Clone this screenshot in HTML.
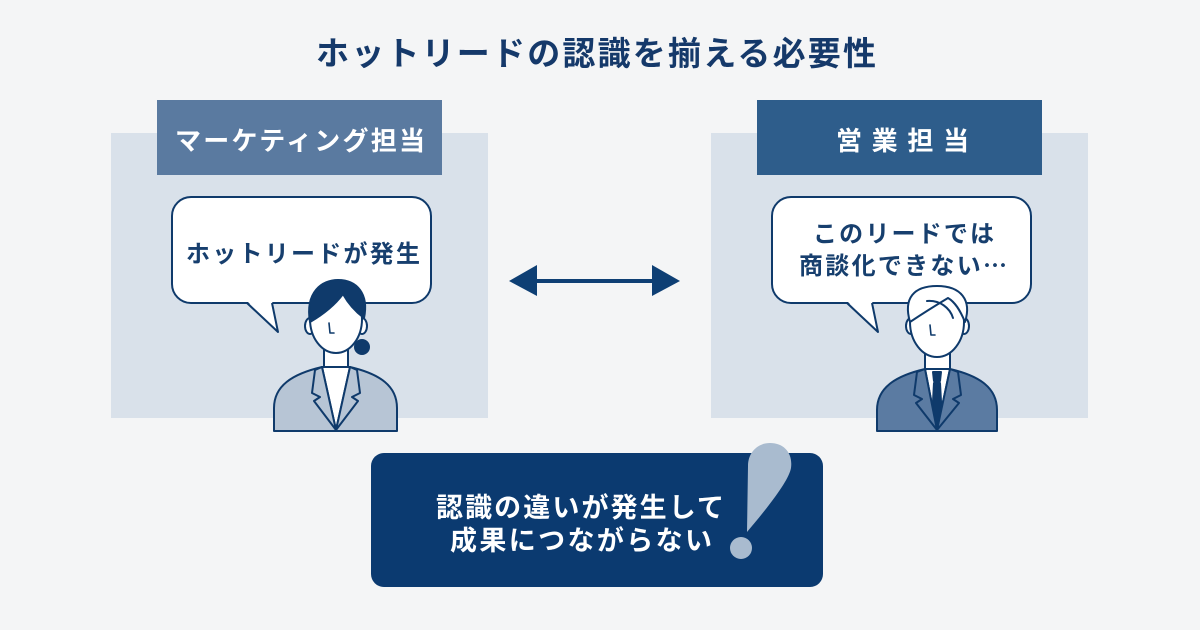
<!DOCTYPE html>
<html><head><meta charset="utf-8"><style>
html,body{margin:0;padding:0;background:#f4f5f6;}
svg{display:block;}
text{font-family:"Liberation Sans","Noto Sans CJK JP",sans-serif;font-weight:700;}
</style></head><body>
<svg width="1200" height="630" viewBox="0 0 1200 630" xmlns="http://www.w3.org/2000/svg">
<rect width="1200" height="630" fill="#f4f5f6"/>
<!-- title -->
<text x="316" y="65" font-size="33" fill="#15396a" textLength="560" lengthAdjust="spacing">ホットリードの認識を揃える必要性</text>

<!-- panels -->
<rect x="111" y="133" width="377" height="285" fill="#d9e1ea"/>
<rect x="711" y="133" width="377" height="285" fill="#d9e1ea"/>
<rect x="157" y="100" width="285" height="75" fill="#5a7aa0"/>
<rect x="757" y="100" width="285" height="75" fill="#2e5d8b"/>
<text x="175" y="150" font-size="26" fill="#fff" textLength="250" lengthAdjust="spacing">マーケティング担当</text>
<text x="836" y="150" font-size="26" fill="#fff" textLength="133" lengthAdjust="spacing">営業担当</text>

<!-- bubbles -->
<g stroke="#0f3a6b" stroke-width="2" stroke-linejoin="round">
<rect x="172" y="197" width="259" height="106" rx="19" fill="#fff"/>
<rect x="772" y="197" width="259" height="106" rx="19" fill="#fff"/>
</g>
<polygon points="247,301 278,332 272,301" fill="#fff"/>
<polyline points="247,303 278,332 272,303" fill="none" stroke="#0f3a6b" stroke-width="2" stroke-linejoin="round"/>
<polygon points="847,301 878,332 872,301" fill="#fff"/>
<polyline points="847,303 878,332 872,303" fill="none" stroke="#0f3a6b" stroke-width="2" stroke-linejoin="round"/>
<text x="186" y="262" font-size="24" fill="#173f6e" textLength="234" lengthAdjust="spacing">ホットリードが発生</text>
<text x="813" y="242" font-size="24" fill="#173f6e" textLength="181" lengthAdjust="spacing">このリードでは</text>
<text x="799" y="274" font-size="24" fill="#173f6e" textLength="208" lengthAdjust="spacing">商談化できない<tspan style="font-family:'Noto Sans CJK JP',sans-serif">…</tspan></text>

<!-- arrow -->
<line x1="532" y1="281" x2="658" y2="281" stroke="#0e3f74" stroke-width="4"/>
<polygon points="509,281 537,265 537,296" fill="#0e3f74"/>
<polygon points="680,281 652,265 652,296" fill="#0e3f74"/>

<!-- woman -->
<g stroke="#0f3a6b" stroke-width="2" stroke-linejoin="round" stroke-linecap="round">
<path d="M274,431 L274,408 C274,386 292,374 322,367 L350,367 C380,374 397,386 397,408 L397,431 Z" fill="#b7c5d5"/>
<path d="M322,367 L350,367 L336,430 Z" fill="#fff"/>
<path d="M322,367 L315,370 L312,393 L320,397 L314,401 L336,430 Z" fill="#b7c5d5"/>
<path d="M350,367 L357,370 L360,393 L352,397 L358,401 L336,430 Z" fill="#b7c5d5"/>
<rect x="324" y="343" width="24" height="24" fill="#fff"/>
<circle cx="362" cy="347" r="7" fill="#0f3a6b"/>
<ellipse cx="310" cy="326" rx="5" ry="8" fill="#fff"/>
<ellipse cx="362" cy="326" rx="5" ry="8" fill="#fff"/>
<ellipse cx="336" cy="319" rx="26" ry="34" fill="#fff"/>
<path d="M310,322 C305,292 322,280 338,280 C357,280 369,294 364,318 C356,312 348,303 343,294 C334,306 322,315 310,322 Z" fill="#0f3a6b"/>
<path d="M329,323 L330,333 L334,333" fill="none" stroke-width="1.6"/>
</g>

<!-- man -->
<g stroke="#0f3a6b" stroke-width="2" stroke-linejoin="round" stroke-linecap="round">
<path d="M877,431 L877,410 C877,388 895,376 925,369 L950,369 C980,376 997,388 997,410 L997,431 Z" fill="#5b7ba2"/>
<path d="M925,369 L950,369 L937,430 Z" fill="#fff"/>
<path d="M933,372 L941,372 L940,381 L934,381 Z" fill="#0f3a6b"/>
<path d="M934,383 L940,383 L942,420 L937,428 L932,420 Z" fill="#0f3a6b"/>
<path d="M925,369 L917,372 L914,395 L922,399 L916,403 L937,430 Z" fill="#5b7ba2"/>
<path d="M950,369 L958,372 L961,395 L953,399 L959,403 L937,430 Z" fill="#5b7ba2"/>
<rect x="925" y="345" width="25" height="24" fill="#fff"/>
<ellipse cx="911" cy="326" rx="5" ry="8" fill="#fff"/>
<ellipse cx="964" cy="326" rx="5" ry="8" fill="#fff"/>
<ellipse cx="937" cy="322" rx="27" ry="35" fill="#fff"/>
<path d="M910,322 C903,298 914,286 937,286 C961,286 972,300 965,322 C960,310 955,302 948,298 C938,304 925,312 910,322 Z" fill="#fff"/>
<path d="M927,301 C940,300 950,308 953,318" fill="none"/>
<path d="M930,325 L931,335 L935,335" fill="none" stroke-width="1.6"/>
</g>

<!-- bottom box -->
<rect x="371" y="453" width="452" height="134" rx="13" fill="#0b3a70"/>
<text x="436" y="517" font-size="27" fill="#fff" textLength="288" lengthAdjust="spacing">認識の違いが発生して</text>
<text x="450" y="550" font-size="27" fill="#fff" textLength="262" lengthAdjust="spacing">成果につながらない</text>
<path d="M747,532 L748,466 C748,452 758,443 770,443 C784,443 793,453 791,468 C789,480 770,505 747,532 Z" fill="#a9bbcf"/>
<circle cx="741" cy="548" r="11" fill="#a9bbcf"/>
</svg>
</body></html>
